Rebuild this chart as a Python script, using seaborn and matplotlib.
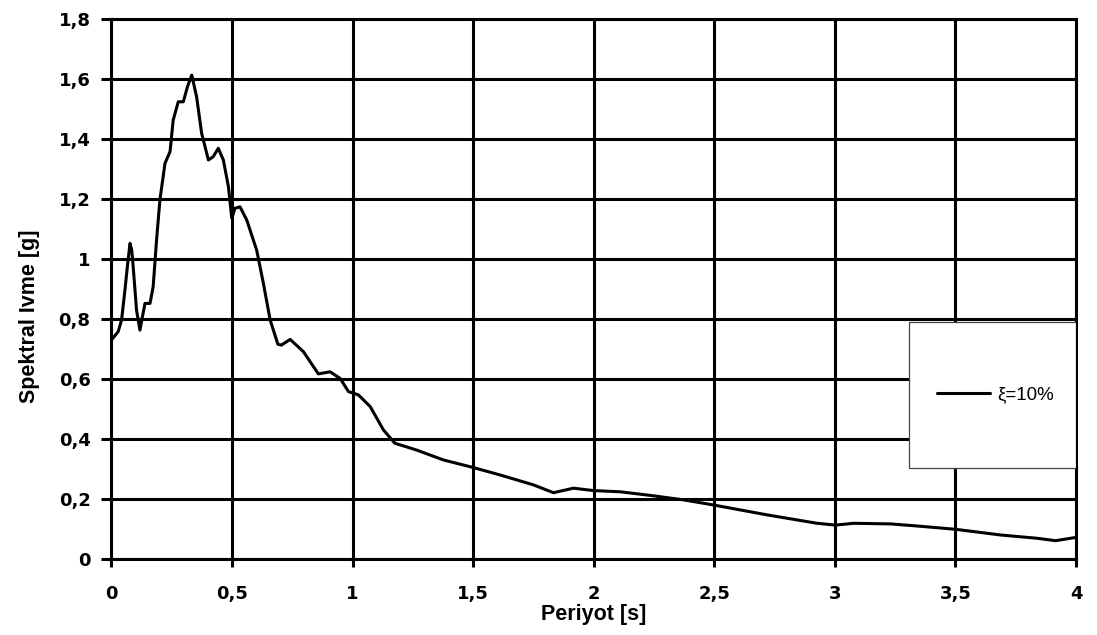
import matplotlib
matplotlib.use("Agg")
import matplotlib.pyplot as plt
from matplotlib.patches import Rectangle
import seaborn as sns
import pandas as pd

# Response spectrum, 10 % damping
period_s = [0.0, 0.028, 0.042, 0.056, 0.068, 0.077, 0.084, 0.09, 0.104, 0.118, 0.139, 0.160,
            0.173, 0.187, 0.201, 0.222, 0.243, 0.256, 0.277, 0.298, 0.315, 0.333,
            0.353, 0.374, 0.402, 0.422, 0.443, 0.464, 0.485, 0.499, 0.512, 0.533,
            0.561, 0.602, 0.63, 0.658, 0.69, 0.705, 0.741, 0.796, 0.858, 0.907, 0.948,
            0.983, 1.024, 1.073, 1.128, 1.175, 1.266, 1.377, 1.495, 1.612, 1.750,
            1.833, 1.916, 1.999, 2.110, 2.234, 2.373, 2.497, 2.719, 2.926, 3.002,
            3.078, 3.23, 3.341, 3.5, 3.687, 3.839, 3.915, 4.0]
spectral_acc_g = [0.73, 0.758, 0.797, 0.897, 0.99, 1.052, 1.03, 0.975, 0.83, 0.763, 0.852, 0.852,
                  0.908, 1.063, 1.197, 1.319, 1.358, 1.463, 1.524, 1.524, 1.574, 1.613,
                  1.541, 1.419, 1.33, 1.341, 1.369, 1.33, 1.241, 1.136, 1.169, 1.174,
                  1.13, 1.03, 0.919, 0.797, 0.716, 0.713, 0.732, 0.691, 0.617, 0.624, 0.602,
                  0.558, 0.547, 0.508, 0.43, 0.386, 0.363, 0.33, 0.306, 0.28, 0.247,
                  0.221, 0.236, 0.228, 0.224, 0.212, 0.197, 0.18, 0.147, 0.119, 0.113,
                  0.119, 0.117, 0.11, 0.099, 0.08, 0.069, 0.061, 0.072]
series_label = "ξ=10%"

x_ticks = [0, 0.5, 1, 1.5, 2, 2.5, 3, 3.5, 4]
x_tick_labels = ["0", "0,5", "1", "1,5", "2", "2,5", "3", "3,5", "4"]
y_ticks = [0, 0.2, 0.4, 0.6, 0.8, 1.0, 1.2, 1.4, 1.6, 1.8]
y_tick_labels = ["0", "0,2", "0,4", "0,6", "0,8", "1", "1,2", "1,4", "1,6", "1,8"]

df = pd.DataFrame({"Periyot": period_s, "Ivme": spectral_acc_g})

sns.set_theme(style="white")
plt.rcParams["font.family"] = ["DejaVu Sans"]

fig = plt.figure(figsize=(10.97, 6.35), dpi=100)
ax = fig.add_axes([0.1016, 0.1197, 0.8793, 0.8504])

lw = 2.2
sns.lineplot(data=df, x="Periyot", y="Ivme", ax=ax, color="black",
             linewidth=lw, label=series_label, legend=False, zorder=3)

ax.set_xlim(0, 4)
ax.set_ylim(0, 1.8)
ax.set_xticks(x_ticks)
ax.set_xticklabels(x_tick_labels, fontsize=13, fontweight="bold")
ax.set_yticks(y_ticks)
ax.set_yticklabels(y_tick_labels, fontsize=13, fontweight="bold")

ax.grid(True, color="black", linewidth=lw)
ax.set_axisbelow(True)
for side in ["left", "right", "top", "bottom"]:
    ax.spines[side].set_visible(True)
    ax.spines[side].set_color("black")
    ax.spines[side].set_linewidth(lw)

ax.tick_params(axis="x", direction="out", length=5.5, width=lw, color="black",
               pad=13, labelcolor="black", bottom=True)
ax.tick_params(axis="y", direction="out", length=7, width=lw, color="black",
               pad=8, labelcolor="black", left=True)

ax.set_xlabel("Periyot [s]", fontsize=15.5, fontweight="bold", color="black",
              family=["Liberation Sans", "DejaVu Sans"])
ax.set_ylabel("Spektral Ivme [g]", fontsize=15.5, fontweight="bold", color="black",
              family=["Liberation Sans", "DejaVu Sans"])
ax.xaxis.set_label_coords(0.5, -0.083)
ax.yaxis.set_label_coords(-0.074, 0.45)

# legend box
box = Rectangle((0.8269, 0.1685), 0.1731, 0.2704, transform=ax.transAxes,
                facecolor="white", edgecolor="#444444", linewidth=0.9, zorder=4)
ax.add_patch(box)
handles, labels = ax.get_legend_handles_labels()
leg = ax.legend(handles, labels, loc="center left", bbox_to_anchor=(0.856, 0.3037),
                frameon=False, borderpad=0, borderaxespad=0, handlelength=2.83,
                handletextpad=0.37,
                prop={"family": ["Liberation Sans", "DejaVu Sans"], "size": 13.5})
for t in leg.get_texts():
    t.set_color("black")
leg.set_zorder(5)

fig.savefig("out.png", dpi=100, facecolor="white")
